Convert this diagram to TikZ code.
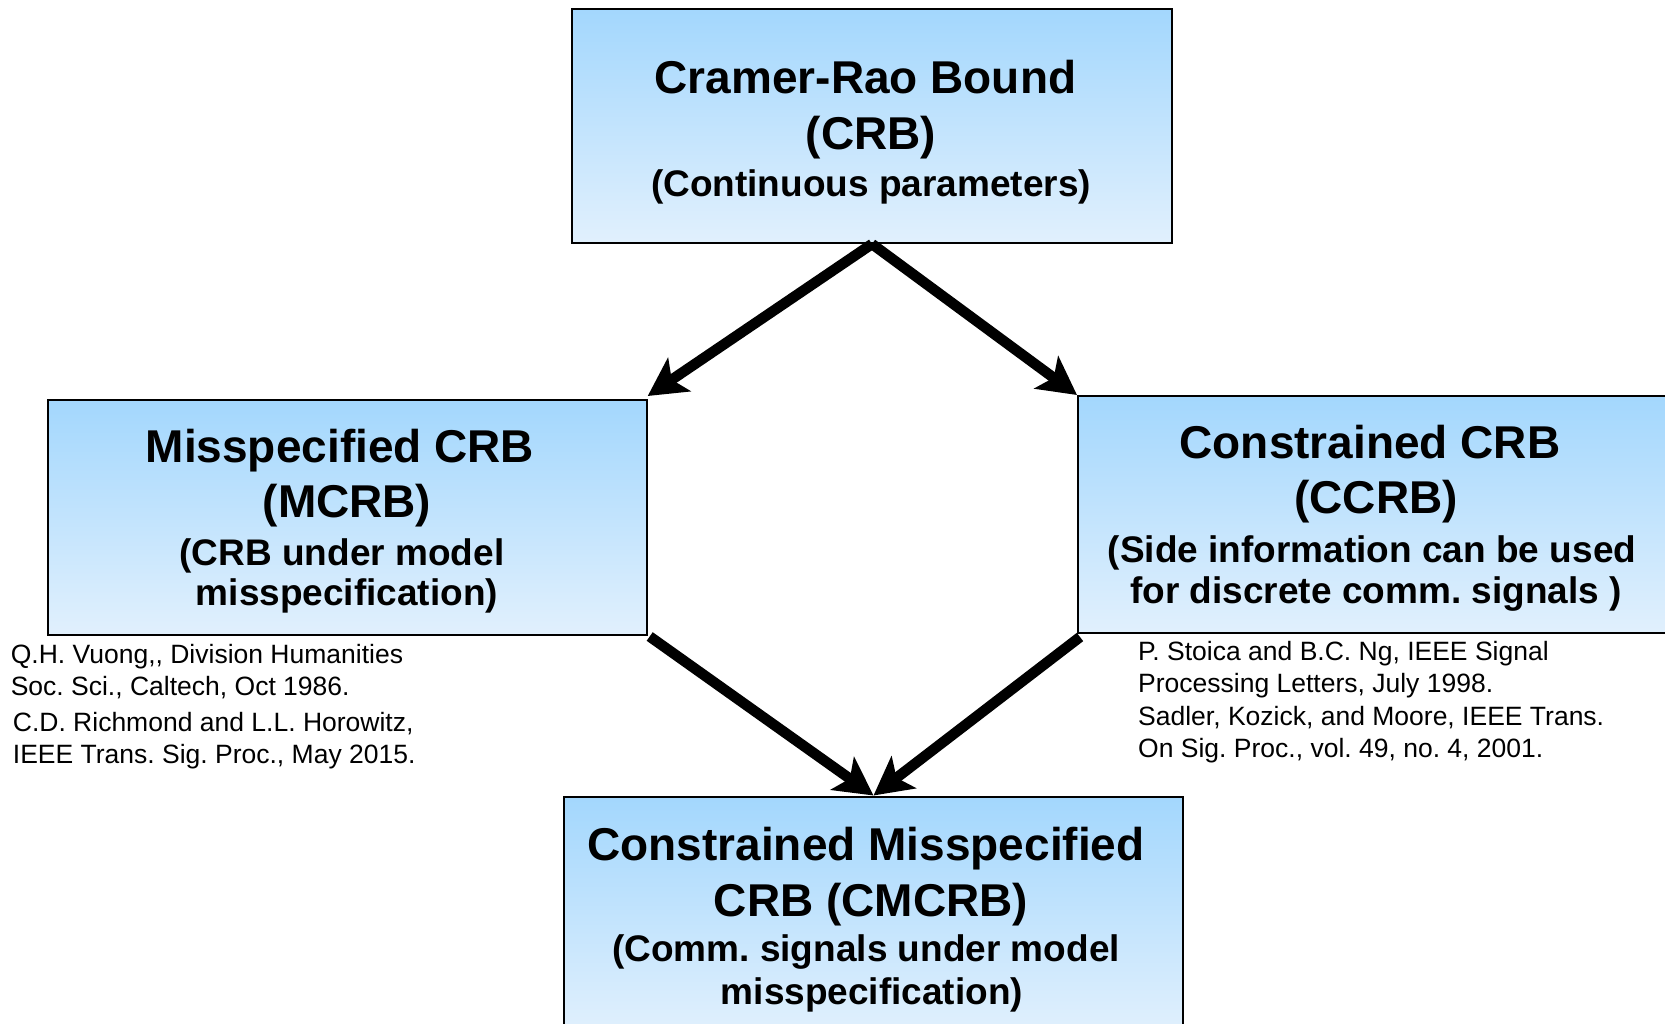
\documentclass[tikz,border=0pt]{standalone}
\usepackage{fontspec}
\setmainfont{Liberation Sans}
\usetikzlibrary{arrows.meta}
\frenchspacing

\definecolor{boxtop}{HTML}{A3D7FD}
\definecolor{boxbot}{HTML}{E1F0FD}

\tikzset{
  crbbox/.style={draw=black, line width=2pt, rectangle, inner sep=0pt,
    top color=boxtop, bottom color=boxbot, anchor=north west},
  headline/.style={inner sep=0pt, anchor=base, font=\fontsize{46}{55}\selectfont\bfseries},
  subline/.style={inner sep=0pt, anchor=base, font=\fontsize{37}{42}\selectfont\bfseries},
  refline/.style={inner sep=0pt, anchor=base west, font=\fontsize{26.5}{32}\selectfont},
  flow/.style={line width=10.5pt, draw=black,
    -{Stealth[length=38pt, width=40pt, inset=9pt]}}
}

\begin{document}
\begin{tikzpicture}[x=1pt, y=-1pt]
\useasboundingbox (0,0) rectangle (1665,1024);

% boxes
\node[crbbox, minimum width=600pt, minimum height=234pt] (crb) at (571,8) {};
\node[crbbox, minimum width=599pt, minimum height=234.5pt] (mcrb) at (46.7,399) {};
\node[crbbox, minimum width=593pt, minimum height=237pt] (ccrb) at (1077,395) {};
\node[crbbox, minimum width=619pt, minimum height=237pt] (cmcrb) at (563,795.5) {};

% top box text
\node[headline] (crb1) at (865.5,94) {Cramer-Rao Bound};
\node[headline] (crb2) at (871,149.5) {(CRB)};
\node[subline]  (crb3) at (871,197) {(Continuous parameters)};

% left box text
\node[headline] (mcrb1) at (340,462.5) {Misspecified CRB};
\node[headline] (mcrb2) at (347,517.5) {(MCRB)};
\node[subline]  (mcrb3) at (342,565) {(CRB under model};
\node[subline]  (mcrb4) at (347,605) {misspecification)};

% right box text
\node[headline] (ccrb1) at (1370,458.5) {Constrained CRB};
\node[headline] (ccrb2) at (1376,513.5) {(CCRB)};
\node[subline]  (ccrb3) at (1372,562) {(Side information can be used};
\node[subline]  (ccrb4) at (1376,603) {for discrete comm. signals )};

% bottom box text
\node[headline] (cm1) at (866,860.5) {Constrained Misspecified};
\node[headline] (cm2) at (871,916.5) {CRB (CMCRB)};
\node[subline]  (cm3) at (866,961) {(Comm. signals under model};
\node[subline]  (cm4) at (872,1004) {misspecification)};

% references
\node[refline] (ra1) at (10.6,663) {Q.H. Vuong,{},{} Division Humanities};
\node[refline] (ra2) at (10.6,695) {Soc. Sci., Caltech, Oct 1986.};
\node[refline] (ra3) at (12.7,731) {C.D. Richmond and L.L. Horowitz,};
\node[refline] (ra4) at (12.7,763) {IEEE Trans. Sig. Proc., May 2015.};

\node[refline] (rb1) at (1138,660.5) {P. Stoica and B.C. Ng, IEEE Signal};
\node[refline] (rb2) at (1138,692.5) {Processing Letters, July 1998.};
\node[refline] (rb3) at (1138,725) {Sadler, Kozick, and Moore, IEEE Trans.};
\node[refline] (rb4) at (1138,757.5) {On Sig. Proc., vol. 49, no. 4, 2001.};

% connectors
\draw[flow] (crb.south) -- ([yshift=3pt]mcrb.north east);
\draw[flow] (crb.south) -- (ccrb.north west);
\draw[flow] ([xshift=2pt,yshift=-1pt]mcrb.south east) -- (cmcrb.north);
\draw[flow] ([xshift=3pt,yshift=-3pt]ccrb.south west) -- (cmcrb.north);
\end{tikzpicture}
\end{document}
